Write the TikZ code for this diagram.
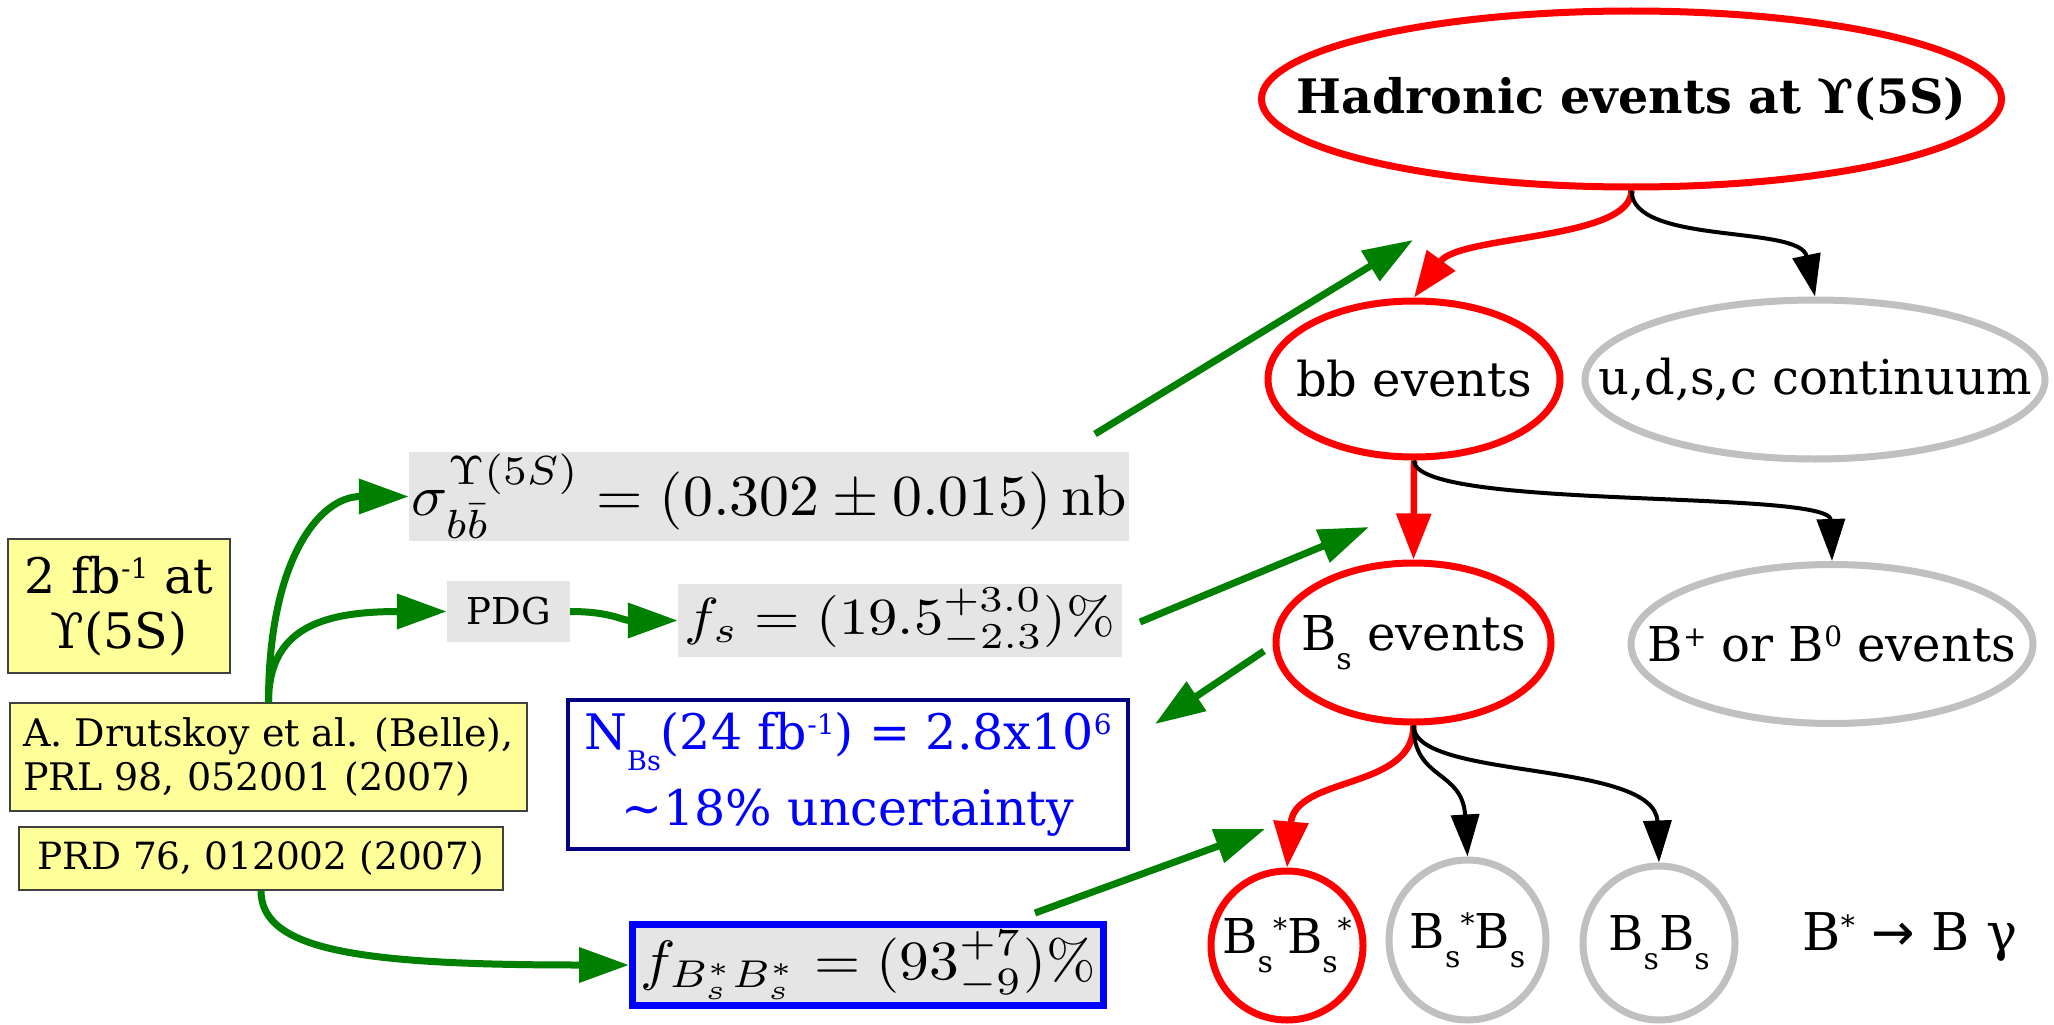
\documentclass[tikz,border=0pt]{standalone}
\usepackage[no-math]{fontspec}
\setmainfont{DejaVu Serif}
\newfontfamily\symfont{DejaVu Sans}
\usepackage{graphicx}
\usetikzlibrary{shapes.geometric,arrows.meta}
\definecolor{myred}{RGB}{255,0,0}
\definecolor{mygray}{RGB}{192,192,192}
\definecolor{mygreen}{RGB}{0,128,0}
\definecolor{myyellow}{RGB}{255,255,153}
\definecolor{myfill}{RGB}{229,229,229}
\definecolor{mynavy}{RGB}{0,0,128}
\definecolor{myblue}{RGB}{0,0,255}
\newcommand\lsub[1]{\raisebox{-19pt}{\fontsize{30}{30}\selectfont #1}}
\newcommand\hsup[1]{\raisebox{15pt}{\fontsize{28}{28}\selectfont #1}}
\begin{document}
\begin{tikzpicture}[x=1pt,y=-1pt,
  ell/.style={ellipse, inner sep=0pt, line width=7pt, font=\fontsize{48}{57}\selectfont},
  redell/.style={ell, draw=myred},
  grayell/.style={ell, draw=mygray},
  ybox/.style={rectangle, draw=black!75, fill=myyellow, line width=1.2pt, inner sep=0pt},
  gbox/.style={rectangle, fill=myfill, inner sep=0pt},
  garrow/.style={draw=mygreen, line width=7pt, -{Triangle[length=50pt,width=34pt]}},
  rarrow/.style={draw=myred, line width=6.5pt, -{Triangle[length=46pt,width=34pt]}},
  karrow/.style={draw=black, line width=4pt, -{Triangle[length=42pt,width=28pt]}}]
\useasboundingbox (0,0) rectangle (2054,1025);
\fill[white] (0,0) rectangle (2054,1025);

% tree nodes
\node[redell, minimum width=740pt, minimum height=176pt] (top) at (1631.5,99)
  {\makebox[0pt]{\fontsize{47.5}{57}\selectfont\bfseries Hadronic events at ϒ(5S)}};
\node[redell, minimum width=292pt, minimum height=156pt] (bb) at (1414,379)
  {\makebox[0pt]{bb events}};
\node[grayell, minimum width=460pt, minimum height=159pt] (cont) at (1815,379.5)
  {\makebox[0pt]{u,d,s,c continuum}};
\node[redell, minimum width=275pt, minimum height=159pt] (bs) at (1413.5,642.5)
  {\makebox[0pt]{B\lsub{s} events}};
\node[grayell, minimum width=402pt, minimum height=159pt] (bp) at (1832,644)
  {\makebox[0pt]{B\hsup{+} or B\hsup{0} events}};
\node[redell, minimum width=152pt, minimum height=149pt] (c1) at (1287,945.5)
  {\makebox[0pt]{B\lsub{s}\hsup{*}B\lsub{s}\hsup{*}}};
\node[grayell, minimum width=157pt, minimum height=160pt] (c2) at (1467.5,940)
  {\makebox[0pt]{B\lsub{s}\hsup{*}B\lsub{s}}};
\node[grayell, minimum width=152pt, minimum height=154pt] (c3) at (1659,943)
  {\makebox[0pt]{B\lsub{s}B\lsub{s}}};
\node[font=\fontsize{52}{62}\selectfont] (decay) at (1910,937)
  {B\hsup{*} {\symfont →} B γ};

% left boxes
\node[ybox, minimum width=222pt, minimum height=134pt, align=center,
      font=\fontsize{49}{55}\selectfont] (lumi) at (119,606)
  {2 fb\hsup{-1} at\\ϒ(5S)};
\node[ybox, minimum width=517pt, minimum height=108pt, align=left,
      font=\fontsize{38}{44}\selectfont] (dru) at (268.5,757)
  {A. Drutskoy et al. (Belle),\\PRL 98, 052001 (2007)};
\node[ybox, minimum width=484pt, minimum height=63pt,
      font=\fontsize{37.5}{44}\selectfont] (prd) at (261,858.5)
  {PRD 76, 012002 (2007)};

% formula boxes
\node[gbox, minimum width=720pt, minimum height=89pt] (sig) at (769,496.5)
  {\resizebox*{715pt}{84pt}{$\sigma^{\Upsilon(5S)}_{b\bar b} = (0.302\pm0.015)\,\mathrm{nb}$}};
\node[gbox, minimum width=123pt, minimum height=61pt,
      font=\fontsize{37}{44}\selectfont] (pdg) at (508.5,611.5) {PDG};
\node[gbox, minimum width=444pt, minimum height=73pt] (fs) at (900,620.5)
  {\resizebox*{430pt}{64pt}{$f_s = (19.5^{+3.0}_{-2.3})\%$}};
\node[rectangle, draw=mynavy, line width=3.5pt, fill=white, inner sep=0pt,
      minimum width=560pt, minimum height=149pt, align=center, text=myblue,
      font=\fontsize{49}{62}\selectfont] (nbs) at (848,774.5)
  {N\raisebox{-21pt}{\fontsize{27}{27}\selectfont Bs}(24 fb\hsup{-1}) = 2.8x10\hsup{6}\\[14pt]\textasciitilde 18\% uncertainty};
\node[gbox, draw=myblue, line width=7pt, minimum width=471pt, minimum height=81pt] (fbb) at (868,965)
  {\resizebox*{455pt}{68pt}{$f_{B_s^*B_s^*} = (93^{+7}_{-9})\%$}};

% free ends of green arrows
\coordinate (ga1) at (1095,434);
\coordinate (ga2) at (1413,240);
\coordinate (gb1) at (1140,622);
\coordinate (gb2) at (1369,527);
\coordinate (gc1) at (1264,651);
\coordinate (gc2) at (1155,724);
\coordinate (gd1) at (1035,913);
\coordinate (gd2) at (1265,829);

% tree connectors
\draw[rarrow] (top.south) .. controls +(0,50) and +(46,-63) .. (bb.north);
\draw[karrow] (top.south) .. controls +(0,55) and +(-15,-72) .. (cont.north);
\draw[rarrow] (bb.south) -- (bs.north);
\draw[karrow] (bb.south) .. controls +(0,50) and +(-2,-72) .. (bp.north);
\draw[rarrow] (bs.south) .. controls +(0,65) and +(8,-92) .. (c1.north);
\draw[karrow] (bs.south) .. controls +(0,55) and +(-5,-87) .. (c2.north);
\draw[karrow] (bs.south) .. controls +(0,55) and +(-4,-103) .. (c3.north);

% green connectors
\draw[garrow] (dru.north) .. controls +(0,-143) and +(-89,0) .. (sig.west);
\draw[garrow] (dru.north) .. controls +(0,-73) and +(-127,0) .. (pdg.west);
\draw[garrow] (pdg.east) .. controls +(40,0) and +(-55,0) .. (fs.west);
\draw[garrow] (prd.south) .. controls +(0,60) and +(-269,0) .. (fbb.west);
\draw[garrow] (ga1) -- (ga2);
\draw[garrow] (gb1) -- (gb2);
\draw[garrow] (gc1) -- (gc2);
\draw[garrow] (gd1) -- (gd2);
\end{tikzpicture}
\end{document}
